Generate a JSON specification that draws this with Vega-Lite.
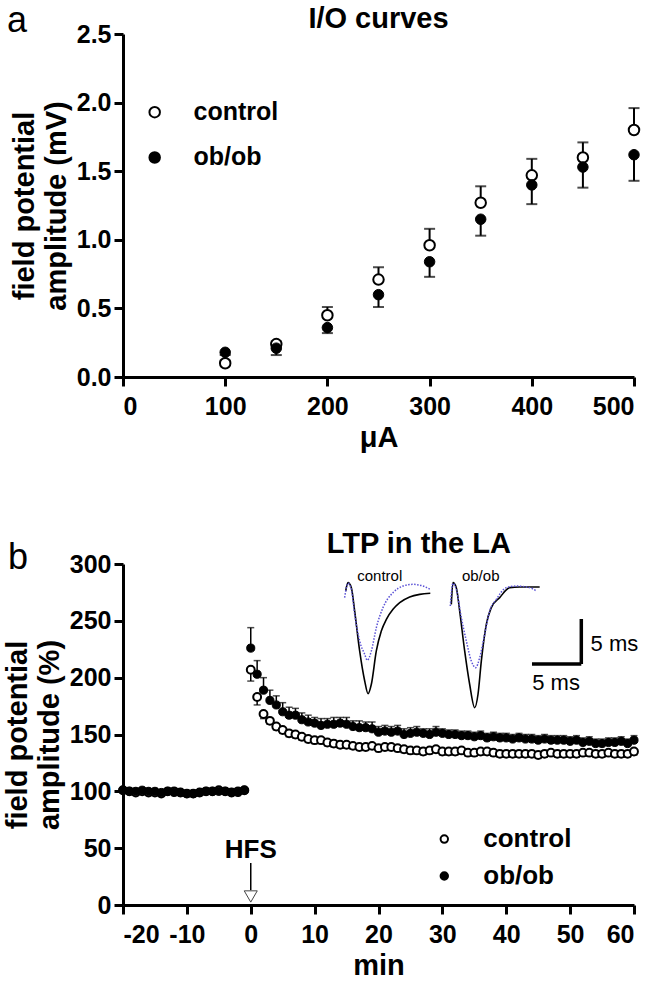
{
  "$schema": "https://vega.github.io/schema/vega-lite/v6.json",
  "background": "white",
  "padding": {"left": 3, "top": 2, "right": 5, "bottom": 2},
  "spacing": 187,
  "bounds": "flush",
  "config": {
    "font": "Liberation Sans",
    "view": {"stroke": null},
    "axis": {
      "grid": false,
      "domainColor": "black",
      "domainWidth": 3,
      "tickColor": "black",
      "tickWidth": 3,
      "tickSize": 9,
      "labelColor": "black",
      "labelFont": "Liberation Sans",
      "labelFontSize": 25,
      "labelFontWeight": "bold",
      "titleColor": "black",
      "titleFont": "Liberation Sans",
      "titleFontSize": 29,
      "titleFontWeight": "bold",
      "titleLineHeight": 32
    },
    "axisX": {"labelPadding": 8, "titlePadding": 4},
    "axisY": {"labelPadding": 3, "titlePadding": 5}
  },
  "datasets": {
    "io": [
      {"uA": 100, "group": "control", "amp": 0.10, "end": 0.12},
      {"uA": 150, "group": "control", "amp": 0.24, "end": 0.26},
      {"uA": 200, "group": "control", "amp": 0.45, "end": 0.51},
      {"uA": 250, "group": "control", "amp": 0.71, "end": 0.80},
      {"uA": 300, "group": "control", "amp": 0.96, "end": 1.08},
      {"uA": 350, "group": "control", "amp": 1.27, "end": 1.39},
      {"uA": 400, "group": "control", "amp": 1.47, "end": 1.59},
      {"uA": 450, "group": "control", "amp": 1.60, "end": 1.71},
      {"uA": 500, "group": "control", "amp": 1.80, "end": 1.96},
      {"uA": 100, "group": "ob/ob", "amp": 0.18, "end": 0.16},
      {"uA": 150, "group": "ob/ob", "amp": 0.21, "end": 0.16},
      {"uA": 200, "group": "ob/ob", "amp": 0.36, "end": 0.32},
      {"uA": 250, "group": "ob/ob", "amp": 0.60, "end": 0.51},
      {"uA": 300, "group": "ob/ob", "amp": 0.84, "end": 0.73},
      {"uA": 350, "group": "ob/ob", "amp": 1.15, "end": 1.03},
      {"uA": 400, "group": "ob/ob", "amp": 1.40, "end": 1.26},
      {"uA": 450, "group": "ob/ob", "amp": 1.53, "end": 1.38},
      {"uA": 500, "group": "ob/ob", "amp": 1.62, "end": 1.43}
    ],
    "ioLegend": [
      {"x": 31, "tx": 69, "y": 1.93, "group": "control"},
      {"x": 31, "tx": 69, "y": 1.60, "group": "ob/ob"}
    ],
    "ltp": [
      {"t": -20, "group": "control", "v": 101, "e": 99.5},
      {"t": -19, "group": "control", "v": 100, "e": 98.5},
      {"t": -18, "group": "control", "v": 99, "e": 97.5},
      {"t": -17, "group": "control", "v": 100, "e": 98.5},
      {"t": -16, "group": "control", "v": 99, "e": 97.5},
      {"t": -15, "group": "control", "v": 99, "e": 97.5},
      {"t": -14, "group": "control", "v": 98, "e": 96.5},
      {"t": -13, "group": "control", "v": 100, "e": 98.5},
      {"t": -12, "group": "control", "v": 100, "e": 98.5},
      {"t": -11, "group": "control", "v": 99, "e": 97.5},
      {"t": -10, "group": "control", "v": 98, "e": 96.5},
      {"t": -9, "group": "control", "v": 98, "e": 96.5},
      {"t": -8, "group": "control", "v": 99, "e": 97.5},
      {"t": -7, "group": "control", "v": 100, "e": 98.5},
      {"t": -6, "group": "control", "v": 100, "e": 98.5},
      {"t": -5, "group": "control", "v": 101, "e": 99.5},
      {"t": -4, "group": "control", "v": 100, "e": 98.5},
      {"t": -3, "group": "control", "v": 99, "e": 97.5},
      {"t": -2, "group": "control", "v": 100, "e": 98.5},
      {"t": -1, "group": "control", "v": 101, "e": 99.5},
      {"t": 0, "group": "control", "v": 207, "e": 197},
      {"t": 1, "group": "control", "v": 183, "e": 176},
      {"t": 2, "group": "control", "v": 168, "e": 164},
      {"t": 3, "group": "control", "v": 162, "e": 159},
      {"t": 4, "group": "control", "v": 157, "e": 154},
      {"t": 5, "group": "control", "v": 154, "e": 151},
      {"t": 6, "group": "control", "v": 151, "e": 148},
      {"t": 7, "group": "control", "v": 150, "e": 147},
      {"t": 8, "group": "control", "v": 148, "e": 145},
      {"t": 9, "group": "control", "v": 146, "e": 143},
      {"t": 10, "group": "control", "v": 145, "e": 142},
      {"t": 11, "group": "control", "v": 145, "e": 142},
      {"t": 12, "group": "control", "v": 143, "e": 140},
      {"t": 13, "group": "control", "v": 142, "e": 139},
      {"t": 14, "group": "control", "v": 141, "e": 138},
      {"t": 15, "group": "control", "v": 141, "e": 138},
      {"t": 16, "group": "control", "v": 140, "e": 137},
      {"t": 17, "group": "control", "v": 139, "e": 136},
      {"t": 18, "group": "control", "v": 139, "e": 136},
      {"t": 19, "group": "control", "v": 140, "e": 137},
      {"t": 20, "group": "control", "v": 138, "e": 135},
      {"t": 21, "group": "control", "v": 139, "e": 136},
      {"t": 22, "group": "control", "v": 139, "e": 136},
      {"t": 23, "group": "control", "v": 138, "e": 135},
      {"t": 24, "group": "control", "v": 137, "e": 134},
      {"t": 25, "group": "control", "v": 136, "e": 133},
      {"t": 26, "group": "control", "v": 136, "e": 133},
      {"t": 27, "group": "control", "v": 135, "e": 132},
      {"t": 28, "group": "control", "v": 136, "e": 133},
      {"t": 29, "group": "control", "v": 137, "e": 134},
      {"t": 30, "group": "control", "v": 135, "e": 132},
      {"t": 31, "group": "control", "v": 135, "e": 132},
      {"t": 32, "group": "control", "v": 135, "e": 132},
      {"t": 33, "group": "control", "v": 136, "e": 133},
      {"t": 34, "group": "control", "v": 134, "e": 131},
      {"t": 35, "group": "control", "v": 134, "e": 131},
      {"t": 36, "group": "control", "v": 135, "e": 132},
      {"t": 37, "group": "control", "v": 135, "e": 132},
      {"t": 38, "group": "control", "v": 134, "e": 131},
      {"t": 39, "group": "control", "v": 133, "e": 130},
      {"t": 40, "group": "control", "v": 133, "e": 130},
      {"t": 41, "group": "control", "v": 133, "e": 130},
      {"t": 42, "group": "control", "v": 133, "e": 130},
      {"t": 43, "group": "control", "v": 133, "e": 130},
      {"t": 44, "group": "control", "v": 133, "e": 130},
      {"t": 45, "group": "control", "v": 132, "e": 129},
      {"t": 46, "group": "control", "v": 133, "e": 130},
      {"t": 47, "group": "control", "v": 134, "e": 131},
      {"t": 48, "group": "control", "v": 133, "e": 130},
      {"t": 49, "group": "control", "v": 133, "e": 130},
      {"t": 50, "group": "control", "v": 133, "e": 130},
      {"t": 51, "group": "control", "v": 133, "e": 130},
      {"t": 52, "group": "control", "v": 134, "e": 131},
      {"t": 53, "group": "control", "v": 134, "e": 131},
      {"t": 54, "group": "control", "v": 133, "e": 130},
      {"t": 55, "group": "control", "v": 133, "e": 130},
      {"t": 56, "group": "control", "v": 134, "e": 131},
      {"t": 57, "group": "control", "v": 133, "e": 130},
      {"t": 58, "group": "control", "v": 133, "e": 130},
      {"t": 59, "group": "control", "v": 133, "e": 130},
      {"t": 60, "group": "control", "v": 135, "e": 132},
      {"t": -20, "group": "ob/ob", "v": 101, "e": 102.5},
      {"t": -19, "group": "ob/ob", "v": 100, "e": 101.5},
      {"t": -18, "group": "ob/ob", "v": 100, "e": 101.5},
      {"t": -17, "group": "ob/ob", "v": 101, "e": 102.5},
      {"t": -16, "group": "ob/ob", "v": 100, "e": 101.5},
      {"t": -15, "group": "ob/ob", "v": 100, "e": 101.5},
      {"t": -14, "group": "ob/ob", "v": 99, "e": 100.5},
      {"t": -13, "group": "ob/ob", "v": 100, "e": 101.5},
      {"t": -12, "group": "ob/ob", "v": 99, "e": 100.5},
      {"t": -11, "group": "ob/ob", "v": 99, "e": 100.5},
      {"t": -10, "group": "ob/ob", "v": 98, "e": 99.5},
      {"t": -9, "group": "ob/ob", "v": 98, "e": 99.5},
      {"t": -8, "group": "ob/ob", "v": 99, "e": 100.5},
      {"t": -7, "group": "ob/ob", "v": 100, "e": 101.5},
      {"t": -6, "group": "ob/ob", "v": 100, "e": 101.5},
      {"t": -5, "group": "ob/ob", "v": 100, "e": 101.5},
      {"t": -4, "group": "ob/ob", "v": 100, "e": 101.5},
      {"t": -3, "group": "ob/ob", "v": 99, "e": 100.5},
      {"t": -2, "group": "ob/ob", "v": 99, "e": 100.5},
      {"t": -1, "group": "ob/ob", "v": 101, "e": 102.5},
      {"t": 0, "group": "ob/ob", "v": 226, "e": 244},
      {"t": 1, "group": "ob/ob", "v": 203, "e": 215},
      {"t": 2, "group": "ob/ob", "v": 189, "e": 200},
      {"t": 3, "group": "ob/ob", "v": 180, "e": 189},
      {"t": 4, "group": "ob/ob", "v": 176, "e": 184},
      {"t": 5, "group": "ob/ob", "v": 170, "e": 178},
      {"t": 6, "group": "ob/ob", "v": 167, "e": 174},
      {"t": 7, "group": "ob/ob", "v": 167, "e": 173},
      {"t": 8, "group": "ob/ob", "v": 163, "e": 169},
      {"t": 9, "group": "ob/ob", "v": 161, "e": 167},
      {"t": 10, "group": "ob/ob", "v": 160, "e": 165},
      {"t": 11, "group": "ob/ob", "v": 158, "e": 164},
      {"t": 12, "group": "ob/ob", "v": 159, "e": 164},
      {"t": 13, "group": "ob/ob", "v": 159, "e": 165},
      {"t": 14, "group": "ob/ob", "v": 160, "e": 165},
      {"t": 15, "group": "ob/ob", "v": 159, "e": 165},
      {"t": 16, "group": "ob/ob", "v": 157, "e": 162},
      {"t": 17, "group": "ob/ob", "v": 156, "e": 162},
      {"t": 18, "group": "ob/ob", "v": 156, "e": 161},
      {"t": 19, "group": "ob/ob", "v": 155, "e": 161},
      {"t": 20, "group": "ob/ob", "v": 152, "e": 157},
      {"t": 21, "group": "ob/ob", "v": 153, "e": 158},
      {"t": 22, "group": "ob/ob", "v": 152, "e": 157},
      {"t": 23, "group": "ob/ob", "v": 153, "e": 158},
      {"t": 24, "group": "ob/ob", "v": 150, "e": 155},
      {"t": 25, "group": "ob/ob", "v": 151, "e": 156},
      {"t": 26, "group": "ob/ob", "v": 152, "e": 157},
      {"t": 27, "group": "ob/ob", "v": 151, "e": 155},
      {"t": 28, "group": "ob/ob", "v": 150, "e": 155},
      {"t": 29, "group": "ob/ob", "v": 152, "e": 157},
      {"t": 30, "group": "ob/ob", "v": 151, "e": 155},
      {"t": 31, "group": "ob/ob", "v": 150, "e": 154},
      {"t": 32, "group": "ob/ob", "v": 150, "e": 154},
      {"t": 33, "group": "ob/ob", "v": 149, "e": 153},
      {"t": 34, "group": "ob/ob", "v": 149, "e": 153},
      {"t": 35, "group": "ob/ob", "v": 148, "e": 152},
      {"t": 36, "group": "ob/ob", "v": 149, "e": 153},
      {"t": 37, "group": "ob/ob", "v": 147, "e": 151},
      {"t": 38, "group": "ob/ob", "v": 148, "e": 152},
      {"t": 39, "group": "ob/ob", "v": 147, "e": 151},
      {"t": 40, "group": "ob/ob", "v": 147, "e": 151},
      {"t": 41, "group": "ob/ob", "v": 146, "e": 150},
      {"t": 42, "group": "ob/ob", "v": 147, "e": 151},
      {"t": 43, "group": "ob/ob", "v": 146, "e": 150},
      {"t": 44, "group": "ob/ob", "v": 146, "e": 150},
      {"t": 45, "group": "ob/ob", "v": 145, "e": 149},
      {"t": 46, "group": "ob/ob", "v": 146, "e": 150},
      {"t": 47, "group": "ob/ob", "v": 145, "e": 149},
      {"t": 48, "group": "ob/ob", "v": 145, "e": 149},
      {"t": 49, "group": "ob/ob", "v": 145, "e": 149},
      {"t": 50, "group": "ob/ob", "v": 144, "e": 148},
      {"t": 51, "group": "ob/ob", "v": 145, "e": 149},
      {"t": 52, "group": "ob/ob", "v": 143, "e": 147},
      {"t": 53, "group": "ob/ob", "v": 144, "e": 148},
      {"t": 54, "group": "ob/ob", "v": 142, "e": 146},
      {"t": 55, "group": "ob/ob", "v": 142, "e": 146},
      {"t": 56, "group": "ob/ob", "v": 143, "e": 147},
      {"t": 57, "group": "ob/ob", "v": 143, "e": 147},
      {"t": 58, "group": "ob/ob", "v": 144, "e": 148},
      {"t": 59, "group": "ob/ob", "v": 142, "e": 146},
      {"t": 60, "group": "ob/ob", "v": 145, "e": 149}
    ],
    "ltpLegend": [
      {"x": 30.3, "tx": 36.4, "y": 58, "group": "control"},
      {"x": 30.3, "tx": 36.4, "y": 25.5, "group": "ob/ob"}
    ],
    "traces": [
      {"trace": "control-fp", "kind": "before", "t": 14.86, "v": 276.2},
      {"trace": "control-fp", "kind": "before", "t": 15.23, "v": 283.6},
      {"trace": "control-fp", "kind": "before", "t": 15.75, "v": 279.2},
      {"trace": "control-fp", "kind": "before", "t": 16.27, "v": 258.6},
      {"trace": "control-fp", "kind": "before", "t": 17.05, "v": 223.5},
      {"trace": "control-fp", "kind": "before", "t": 17.84, "v": 197.1},
      {"trace": "control-fp", "kind": "before", "t": 18.36, "v": 185.9},
      {"trace": "control-fp", "kind": "before", "t": 18.88, "v": 194.2},
      {"trace": "control-fp", "kind": "before", "t": 19.66, "v": 223.5},
      {"trace": "control-fp", "kind": "before", "t": 20.44, "v": 241.0},
      {"trace": "control-fp", "kind": "before", "t": 21.23, "v": 251.3},
      {"trace": "control-fp", "kind": "before", "t": 22.27, "v": 260.1},
      {"trace": "control-fp", "kind": "before", "t": 23.32, "v": 266.0},
      {"trace": "control-fp", "kind": "before", "t": 24.88, "v": 271.0},
      {"trace": "control-fp", "kind": "before", "t": 26.45, "v": 273.3},
      {"trace": "control-fp", "kind": "before", "t": 28.11, "v": 274.2},
      {"trace": "control-fp2", "kind": "after", "t": 14.70, "v": 270.4},
      {"trace": "control-fp2", "kind": "after", "t": 15.23, "v": 283.0},
      {"trace": "control-fp2", "kind": "after", "t": 15.75, "v": 277.7},
      {"trace": "control-fp2", "kind": "after", "t": 16.27, "v": 255.7},
      {"trace": "control-fp2", "kind": "after", "t": 17.05, "v": 232.3},
      {"trace": "control-fp2", "kind": "after", "t": 17.84, "v": 220.5},
      {"trace": "control-fp2", "kind": "after", "t": 18.25, "v": 215.3},
      {"trace": "control-fp2", "kind": "after", "t": 18.88, "v": 223.5},
      {"trace": "control-fp2", "kind": "after", "t": 19.66, "v": 244.0},
      {"trace": "control-fp2", "kind": "after", "t": 20.70, "v": 261.6},
      {"trace": "control-fp2", "kind": "after", "t": 22.27, "v": 274.8},
      {"trace": "control-fp2", "kind": "after", "t": 23.84, "v": 280.6},
      {"trace": "control-fp2", "kind": "after", "t": 25.40, "v": 282.1},
      {"trace": "control-fp2", "kind": "after", "t": 26.97, "v": 280.6},
      {"trace": "control-fp2", "kind": "after", "t": 28.11, "v": 277.7},
      {"trace": "ob-fp", "kind": "before", "t": 31.40, "v": 264.5},
      {"trace": "ob-fp", "kind": "before", "t": 31.66, "v": 283.6},
      {"trace": "ob-fp", "kind": "before", "t": 32.18, "v": 279.2},
      {"trace": "ob-fp", "kind": "before", "t": 32.71, "v": 258.6},
      {"trace": "ob-fp", "kind": "before", "t": 33.49, "v": 223.5},
      {"trace": "ob-fp", "kind": "before", "t": 34.27, "v": 194.2},
      {"trace": "ob-fp", "kind": "before", "t": 35.06, "v": 173.6},
      {"trace": "ob-fp", "kind": "before", "t": 35.58, "v": 185.4},
      {"trace": "ob-fp", "kind": "before", "t": 36.10, "v": 214.7},
      {"trace": "ob-fp", "kind": "before", "t": 36.88, "v": 246.9},
      {"trace": "ob-fp", "kind": "before", "t": 37.66, "v": 261.6},
      {"trace": "ob-fp", "kind": "before", "t": 38.97, "v": 270.4},
      {"trace": "ob-fp", "kind": "before", "t": 40.54, "v": 279.2},
      {"trace": "ob-fp", "kind": "before", "t": 42.10, "v": 279.8},
      {"trace": "ob-fp", "kind": "before", "t": 45.23, "v": 279.8},
      {"trace": "ob-fp2", "kind": "after", "t": 31.24, "v": 263.0},
      {"trace": "ob-fp2", "kind": "after", "t": 31.66, "v": 283.0},
      {"trace": "ob-fp2", "kind": "after", "t": 32.18, "v": 277.7},
      {"trace": "ob-fp2", "kind": "after", "t": 32.97, "v": 252.8},
      {"trace": "ob-fp2", "kind": "after", "t": 33.75, "v": 232.3},
      {"trace": "ob-fp2", "kind": "after", "t": 34.53, "v": 214.7},
      {"trace": "ob-fp2", "kind": "after", "t": 35.22, "v": 208.8},
      {"trace": "ob-fp2", "kind": "after", "t": 35.84, "v": 217.6},
      {"trace": "ob-fp2", "kind": "after", "t": 36.62, "v": 238.1},
      {"trace": "ob-fp2", "kind": "after", "t": 37.41, "v": 258.6},
      {"trace": "ob-fp2", "kind": "after", "t": 38.45, "v": 268.9},
      {"trace": "ob-fp2", "kind": "after", "t": 40.01, "v": 279.2},
      {"trace": "ob-fp2", "kind": "after", "t": 41.58, "v": 280.6},
      {"trace": "ob-fp2", "kind": "after", "t": 43.67, "v": 279.2},
      {"trace": "ob-fp2", "kind": "after", "t": 44.71, "v": 276.2}
    ],
    "scaleBar": [
      {"x": 51.75, "y": 212, "x2": 51.75, "y2": 251.6},
      {"x": 44.03, "y": 212, "x2": 51.75, "y2": 212}
    ],
    "insetText": [
      {"t": 20.2, "v": 289.4, "label": "control"},
      {"t": 36.0, "v": 289.4, "label": "ob/ob"}
    ]
  },
  "vconcat": [
    {
      "width": 511,
      "height": 343,
      "layer": [
        {
          "data": {"name": "io"},
          "mark": {"type": "rule", "color": "black", "strokeWidth": 2},
          "encoding": {
            "x": {"field": "uA", "type": "quantitative", "scale": {"domain": [0, 500], "nice": false}, "axis": {"values": [0, 100, 200, 300, 400, 500], "title": "μA"}},
            "y": {"field": "amp", "type": "quantitative", "scale": {"domain": [0, 2.5], "nice": false}, "axis": {"values": [0, 0.5, 1, 1.5, 2, 2.5], "format": ".1f", "title": ["field potential", "amplitude (mV)"]}},
            "y2": {"field": "end"}
          }
        },
        {
          "data": {"name": "io"},
          "mark": {"type": "tick", "color": "black", "thickness": 2, "size": 11, "orient": "horizontal"},
          "encoding": {
            "x": {"field": "uA", "type": "quantitative"},
            "y": {"field": "end", "type": "quantitative"}
          }
        },
        {
          "data": {"name": "io"},
          "transform": [{"filter": "datum.group == 'control'"}],
          "mark": {"type": "point", "shape": "circle", "filled": true, "fill": "white", "stroke": "black", "strokeWidth": 2, "size": 110, "opacity": 1},
          "encoding": {
            "x": {"field": "uA", "type": "quantitative"},
            "y": {"field": "amp", "type": "quantitative"}
          }
        },
        {
          "data": {"name": "io"},
          "transform": [{"filter": "datum.group == 'ob/ob'"}],
          "mark": {"type": "point", "shape": "circle", "filled": true, "fill": "black", "stroke": "black", "strokeWidth": 1, "size": 110, "opacity": 1},
          "encoding": {
            "x": {"field": "uA", "type": "quantitative"},
            "y": {"field": "amp", "type": "quantitative"}
          }
        },
        {
          "data": {"name": "ioLegend"},
          "mark": {"type": "point", "shape": "circle", "filled": true, "stroke": "black", "strokeWidth": 2, "size": 110, "opacity": 1},
          "encoding": {
            "x": {"field": "x", "type": "quantitative"},
            "y": {"field": "y", "type": "quantitative"},
            "fill": {"field": "group", "type": "nominal", "scale": {"domain": ["control", "ob/ob"], "range": ["white", "black"]}, "legend": null}
          }
        },
        {
          "data": {"name": "ioLegend"},
          "mark": {"type": "text", "align": "left", "baseline": "middle", "fontSize": 25, "fontWeight": "bold", "color": "black"},
          "encoding": {
            "x": {"field": "tx", "type": "quantitative"},
            "y": {"field": "y", "type": "quantitative"},
            "text": {"field": "group"}
          }
        },
        {
          "data": {"values": [{"x": 250, "y": 2.544, "label": "I/O curves"}]},
          "mark": {"type": "text", "align": "center", "baseline": "alphabetic", "fontSize": 29, "fontWeight": "bold", "color": "black"},
          "encoding": {
            "x": {"field": "x", "type": "quantitative"},
            "y": {"field": "y", "type": "quantitative"},
            "text": {"field": "label"}
          }
        },
        {
          "data": {"values": [{"x": -113.5, "y": 2.515, "label": "a"}]},
          "mark": {"type": "text", "align": "left", "baseline": "alphabetic", "fontSize": 36, "color": "black"},
          "encoding": {
            "x": {"field": "x", "type": "quantitative"},
            "y": {"field": "y", "type": "quantitative"},
            "text": {"field": "label"}
          }
        }
      ]
    },
    {
      "width": 511,
      "height": 341,
      "layer": [
        {
          "mark": {"type": "rule", "color": "black", "strokeWidth": 1.5, "strokeDash": [5, 3]},
          "encoding": {"y": {"datum": 150, "type": "quantitative"}}
        },
        {
          "data": {"name": "ltp"},
          "mark": {"type": "rule", "color": "black", "strokeWidth": 1.5},
          "encoding": {
            "x": {"field": "t", "type": "quantitative", "scale": {"domain": [-20, 60], "nice": false}, "axis": {"values": [-20, -10, 0, 10, 20, 30, 40, 50, 60], "labelExpr": "'' + datum.value", "title": "min"}},
            "y": {"field": "v", "type": "quantitative", "scale": {"domain": [0, 300], "nice": false}, "axis": {"values": [0, 50, 100, 150, 200, 250, 300], "title": ["field potential", "amplitude (%)"]}},
            "y2": {"field": "e"}
          }
        },
        {
          "data": {"name": "ltp"},
          "mark": {"type": "tick", "color": "black", "thickness": 1.5, "size": 7, "orient": "horizontal"},
          "encoding": {
            "x": {"field": "t", "type": "quantitative"},
            "y": {"field": "e", "type": "quantitative"}
          }
        },
        {
          "data": {"name": "ltp"},
          "transform": [{"filter": "datum.group == 'control'"}],
          "mark": {"type": "point", "shape": "circle", "filled": true, "fill": "white", "stroke": "black", "strokeWidth": 2, "size": 62, "opacity": 1},
          "encoding": {
            "x": {"field": "t", "type": "quantitative"},
            "y": {"field": "v", "type": "quantitative"}
          }
        },
        {
          "data": {"name": "ltp"},
          "transform": [{"filter": "datum.group == 'ob/ob'"}],
          "mark": {"type": "point", "shape": "circle", "filled": true, "fill": "black", "stroke": "black", "strokeWidth": 1, "size": 66, "opacity": 1},
          "encoding": {
            "x": {"field": "t", "type": "quantitative"},
            "y": {"field": "v", "type": "quantitative"}
          }
        },
        {
          "data": {"name": "traces"},
          "transform": [{"filter": "datum.kind == 'before'"}],
          "mark": {"type": "line", "color": "black", "strokeWidth": 1.6, "interpolate": "monotone"},
          "encoding": {
            "x": {"field": "t", "type": "quantitative"},
            "y": {"field": "v", "type": "quantitative"},
            "detail": {"field": "trace"}
          }
        },
        {
          "data": {"name": "traces"},
          "transform": [{"filter": "datum.kind == 'after'"}],
          "mark": {"type": "line", "color": "#5b52d6", "strokeWidth": 1.5, "strokeDash": [1.5, 1.5], "interpolate": "monotone"},
          "encoding": {
            "x": {"field": "t", "type": "quantitative"},
            "y": {"field": "v", "type": "quantitative"},
            "detail": {"field": "trace"}
          }
        },
        {
          "data": {"name": "scaleBar"},
          "mark": {"type": "rule", "color": "black", "strokeWidth": 3.5},
          "encoding": {
            "x": {"field": "x", "type": "quantitative"},
            "y": {"field": "y", "type": "quantitative"},
            "x2": {"field": "x2"},
            "y2": {"field": "y2"}
          }
        },
        {
          "data": {"values": [{"t": 53.2, "v": 229.6, "label": "5 ms"}]},
          "mark": {"type": "text", "align": "left", "baseline": "middle", "fontSize": 22, "color": "black"},
          "encoding": {
            "x": {"field": "t", "type": "quantitative"},
            "y": {"field": "v", "type": "quantitative"},
            "text": {"field": "label"}
          }
        },
        {
          "data": {"values": [{"t": 47.8, "v": 195.3, "label": "5 ms"}]},
          "mark": {"type": "text", "align": "center", "baseline": "middle", "fontSize": 22, "color": "black"},
          "encoding": {
            "x": {"field": "t", "type": "quantitative"},
            "y": {"field": "v", "type": "quantitative"},
            "text": {"field": "label"}
          }
        },
        {
          "data": {"name": "insetText"},
          "mark": {"type": "text", "align": "center", "baseline": "middle", "fontSize": 15, "color": "black"},
          "encoding": {
            "x": {"field": "t", "type": "quantitative"},
            "y": {"field": "v", "type": "quantitative"},
            "text": {"field": "label"}
          }
        },
        {
          "data": {"values": [{"t": 0, "v": 48.4, "label": "HFS"}]},
          "mark": {"type": "text", "align": "center", "baseline": "middle", "fontSize": 26, "fontWeight": "bold", "color": "black"},
          "encoding": {
            "x": {"field": "t", "type": "quantitative"},
            "y": {"field": "v", "type": "quantitative"},
            "text": {"field": "label"}
          }
        },
        {
          "data": {"values": [{"t": 0, "v": 37, "v2": 13}]},
          "mark": {"type": "rule", "color": "black", "strokeWidth": 1.5},
          "encoding": {
            "x": {"field": "t", "type": "quantitative"},
            "y": {"field": "v", "type": "quantitative"},
            "y2": {"field": "v2"}
          }
        },
        {
          "data": {"values": [{"t": 0, "v": 7.5}]},
          "mark": {"type": "point", "shape": "triangle-down", "filled": true, "fill": "white", "stroke": "#444", "strokeWidth": 1, "size": 170, "opacity": 1},
          "encoding": {
            "x": {"field": "t", "type": "quantitative"},
            "y": {"field": "v", "type": "quantitative"}
          }
        },
        {
          "data": {"name": "ltpLegend"},
          "mark": {"type": "point", "shape": "circle", "filled": true, "stroke": "black", "strokeWidth": 2, "size": 55, "opacity": 1},
          "encoding": {
            "x": {"field": "x", "type": "quantitative"},
            "y": {"field": "y", "type": "quantitative"},
            "fill": {"field": "group", "type": "nominal", "scale": {"domain": ["control", "ob/ob"], "range": ["white", "black"]}, "legend": null}
          }
        },
        {
          "data": {"name": "ltpLegend"},
          "mark": {"type": "text", "align": "left", "baseline": "middle", "fontSize": 26, "fontWeight": "bold", "color": "black"},
          "encoding": {
            "x": {"field": "tx", "type": "quantitative"},
            "y": {"field": "y", "type": "quantitative"},
            "text": {"field": "group"}
          }
        },
        {
          "data": {"values": [{"x": 26.3, "y": 309.7, "label": "LTP in the LA"}]},
          "mark": {"type": "text", "align": "center", "baseline": "alphabetic", "fontSize": 29, "fontWeight": "bold", "color": "black"},
          "encoding": {
            "x": {"field": "x", "type": "quantitative"},
            "y": {"field": "y", "type": "quantitative"},
            "text": {"field": "label"}
          }
        },
        {
          "data": {"values": [{"x": -38.0, "y": 295.6, "label": "b"}]},
          "mark": {"type": "text", "align": "left", "baseline": "alphabetic", "fontSize": 36, "color": "black"},
          "encoding": {
            "x": {"field": "x", "type": "quantitative"},
            "y": {"field": "y", "type": "quantitative"},
            "text": {"field": "label"}
          }
        }
      ]
    }
  ]
}
